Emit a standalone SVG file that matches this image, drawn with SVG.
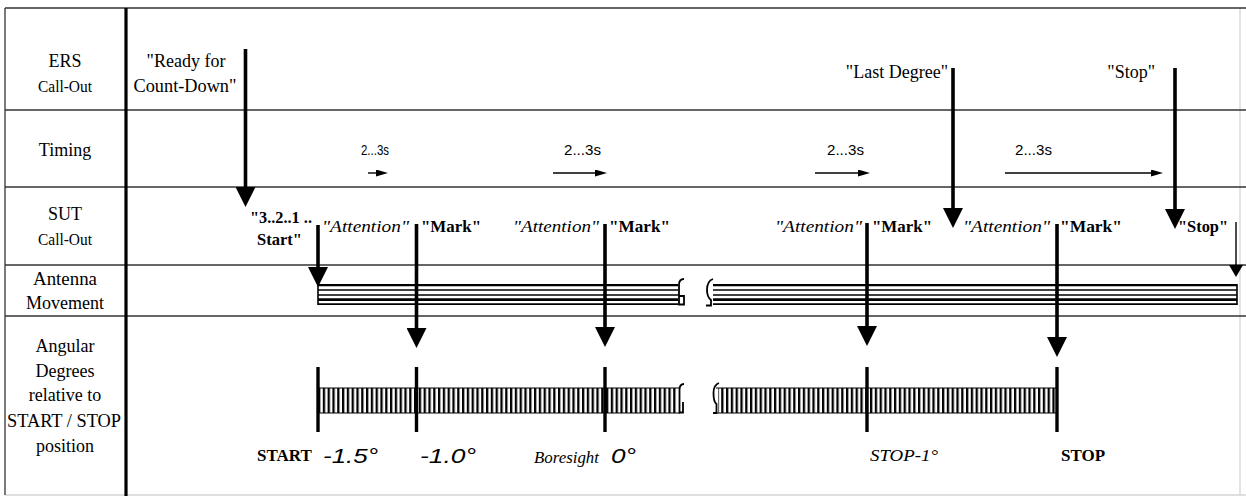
<svg xmlns="http://www.w3.org/2000/svg" width="1246" height="496" viewBox="0 0 1246 496">
<style>
.grid{stroke:#333;stroke-width:1.3;fill:none}
.faint{stroke:#d4d4d4;stroke-width:1.3;fill:none}
.sep{stroke:#000;stroke-width:3.2}
.lbl{font-family:'Liberation Serif','Times New Roman','DejaVu Serif',serif;font-size:18px;text-anchor:middle;fill:#000}
.ers{font-family:'Liberation Serif','Times New Roman','DejaVu Serif',serif;font-size:18px;fill:#000}
.b{font-family:'Liberation Serif','Times New Roman','DejaVu Serif',serif;font-size:17px;font-weight:bold;fill:#000}
.it{font-family:'Liberation Serif','Times New Roman','DejaVu Serif',serif;font-size:17px;font-style:italic;fill:#000}
.tm{font-family:'Liberation Sans',Arial,sans-serif;font-size:15px;fill:#000}
.deg{font-family:'Liberation Sans',Arial,sans-serif;font-size:21px;font-style:italic;fill:#000}
.thick{stroke:#000;stroke-width:3.6;fill:none}
.thin{stroke:#000;stroke-width:1.4;fill:none}
.tick{stroke:#000;stroke-width:3.4}
.brk{stroke:#000;stroke-width:1.8;fill:none}
</style>
<defs>
<marker id="big" viewBox="0 0 20 20" markerWidth="20" markerHeight="20" refX="10" refY="10" orient="auto" markerUnits="userSpaceOnUse"><path d="M0,0 L20,10 L0,20 z" fill="#000"/></marker>
<marker id="small" viewBox="0 0 12 7" markerWidth="12" markerHeight="7" refX="6" refY="3.5" orient="auto" markerUnits="userSpaceOnUse"><path d="M0,0 L12,3.5 L0,7 z" fill="#000"/></marker>
<marker id="thinhead" viewBox="0 0 12 14" markerWidth="12" markerHeight="14" refX="6" refY="7" orient="auto" markerUnits="userSpaceOnUse"><path d="M0,0 L12,7 L0,14 z" fill="#000"/></marker>
<pattern id="hatch" x="318" y="0" width="4.8" height="496" patternUnits="userSpaceOnUse"><rect x="0" y="0" width="2.3" height="496" fill="#000"/></pattern>
</defs>
<rect width="1246" height="496" fill="#fff"/>

<g id="table">
<line class="faint" x1="1240" y1="8" x2="1240" y2="495"/>
<line class="faint" x1="5" y1="495" x2="1246" y2="495"/>
<line class="grid" x1="5" y1="8" x2="1246" y2="8"/>
<line class="grid" x1="5" y1="8" x2="5" y2="495"/>
<line class="grid" x1="5" y1="110" x2="1246" y2="110"/>
<line class="grid" x1="5" y1="187" x2="1246" y2="187"/>
<line class="grid" x1="5" y1="265" x2="1246" y2="265"/>
<line class="grid" x1="5" y1="316" x2="1246" y2="316"/>
<line class="sep" x1="126" y1="8" x2="126" y2="496"/>
</g>

<g id="row-labels">
<text class="lbl" x="65" y="67">ERS</text>
<text class="lbl" x="65" y="91.5" style="font-size:17.5px" textLength="54" lengthAdjust="spacingAndGlyphs">Call-Out</text>
<text class="lbl" x="65" y="156">Timing</text>
<text class="lbl" x="65" y="220">SUT</text>
<text class="lbl" x="65" y="245" style="font-size:17.5px" textLength="54" lengthAdjust="spacingAndGlyphs">Call-Out</text>
<text class="lbl" x="65" y="285" textLength="64" lengthAdjust="spacingAndGlyphs">Antenna</text>
<text class="lbl" x="65" y="309">Movement</text>
<text class="lbl" x="65" y="352">Angular</text>
<text class="lbl" x="65" y="377">Degrees</text>
<text class="lbl" x="65" y="401">relative to</text>
<text class="lbl" x="64" y="427" textLength="114" lengthAdjust="spacingAndGlyphs">START / STOP</text>
<text class="lbl" x="65" y="452">position</text>
</g>

<g id="ers-callouts">
<text class="ers" x="186" y="67" text-anchor="middle">"Ready for</text>
<text class="ers" x="185" y="92" text-anchor="middle" textLength="103" lengthAdjust="spacingAndGlyphs">Count-Down"</text>
<text class="ers" x="948" y="78" text-anchor="end">"Last Degree"</text>
<text class="ers" x="1155" y="78" text-anchor="end">"Stop"</text>
</g>

<g id="timing">
<text class="tm" x="361" y="155" textLength="28" lengthAdjust="spacingAndGlyphs">2...3s</text>
<text class="tm" x="564" y="155" textLength="37" lengthAdjust="spacingAndGlyphs">2...3s</text>
<text class="tm" x="827" y="155" textLength="37" lengthAdjust="spacingAndGlyphs">2...3s</text>
<text class="tm" x="1015" y="155" textLength="37" lengthAdjust="spacingAndGlyphs">2...3s</text>
</g>

<g id="sut-callouts">
<text class="b" x="250" y="223" textLength="62" lengthAdjust="spacingAndGlyphs">"3..2..1 ..</text>
<text class="b" x="257" y="245" textLength="45" lengthAdjust="spacingAndGlyphs">Start"</text>
<text class="it" x="322" y="232" textLength="87" lengthAdjust="spacingAndGlyphs">"Attention"</text>
<text class="b" x="421" y="232" textLength="60" lengthAdjust="spacingAndGlyphs">"Mark"</text>
<text class="it" x="513" y="232" textLength="86" lengthAdjust="spacingAndGlyphs">"Attention"</text>
<text class="b" x="609" y="232" textLength="61" lengthAdjust="spacingAndGlyphs">"Mark"</text>
<text class="it" x="775" y="232" textLength="87" lengthAdjust="spacingAndGlyphs">"Attention"</text>
<text class="b" x="872" y="232" textLength="60" lengthAdjust="spacingAndGlyphs">"Mark"</text>
<text class="it" x="963" y="232" textLength="87" lengthAdjust="spacingAndGlyphs">"Attention"</text>
<text class="b" x="1060" y="232" textLength="62" lengthAdjust="spacingAndGlyphs">"Mark"</text>
<text class="b" x="1178" y="232" textLength="50" lengthAdjust="spacingAndGlyphs">"Stop"</text>
</g>

<g id="antenna-band">
<g stroke="#000" fill="none">
<line x1="318" y1="285.2" x2="678" y2="285.2" stroke-width="2.2"/>
<line x1="318" y1="290" x2="678" y2="290" stroke-width="1.4"/>
<line x1="318" y1="295" x2="678" y2="295" stroke-width="1.4"/>
<line x1="318" y1="299.6" x2="678" y2="299.6" stroke-width="2.6"/>
<line x1="318" y1="304.2" x2="678" y2="304.2" stroke-width="1.8"/>
<line x1="318" y1="284" x2="318" y2="305" stroke-width="1.6"/>
<line x1="713" y1="285.2" x2="1237" y2="285.2" stroke-width="2.2"/>
<line x1="713" y1="290" x2="1237" y2="290" stroke-width="1.4"/>
<line x1="713" y1="295" x2="1237" y2="295" stroke-width="1.4"/>
<line x1="713" y1="299.6" x2="1237" y2="299.6" stroke-width="2.6"/>
<line x1="713" y1="304.2" x2="1237" y2="304.2" stroke-width="1.8"/>
<line x1="1237" y1="284" x2="1237" y2="305" stroke-width="1.6"/>
</g>
<path class="brk" d="M684,279 C680.5,279 679,281 679,285 L679,304.5 L684,304.5 L684,296 L679,296"/>
<path class="brk" d="M713,279 Q707,281 707,290 Q707,297 711,300 L711,305.5 L706,305.5"/>
</g>

<g id="ruler">
<rect x="318" y="388" width="360" height="25" fill="url(#hatch)"/>
<rect x="718" y="388" width="339" height="25" fill="url(#hatch)"/>
<g stroke="#000" stroke-width="1.2">
<line x1="318" y1="388" x2="680" y2="388"/>
<line x1="318" y1="413" x2="680" y2="413"/>
<line x1="716" y1="388" x2="1057" y2="388"/>
<line x1="716" y1="413" x2="1057" y2="413"/>
</g>
<path class="brk" d="M684,384 C680.5,384 679.5,386 679.5,390 L679.5,412.5 L683,412.5 L683,402"/>
<path class="brk" d="M719,383 Q713.5,385 713.5,393 Q713.5,402 716.5,404 L716.5,413 L713,413"/>
<line class="tick" x1="318" y1="367" x2="318" y2="432"/>
<line class="tick" x1="416.5" y1="367" x2="416.5" y2="432"/>
<line class="tick" x1="605" y1="367" x2="605" y2="432"/>
<line class="tick" x1="867" y1="367" x2="867" y2="432"/>
<line class="tick" x1="1057" y1="367" x2="1057" y2="432"/>
</g>

<g id="angle-labels">
<text class="b" x="257" y="461">START</text>
<text class="deg" x="323" y="463" textLength="55" lengthAdjust="spacingAndGlyphs">-1.5°</text>
<text class="deg" x="420" y="463" textLength="56" lengthAdjust="spacingAndGlyphs">-1.0°</text>
<text class="it" x="534" y="463" textLength="65" lengthAdjust="spacingAndGlyphs">Boresight</text>
<text class="deg" x="611" y="463" textLength="25" lengthAdjust="spacingAndGlyphs">0°</text>
<text class="it" x="870" y="461" textLength="68" lengthAdjust="spacingAndGlyphs">STOP-1°</text>
<text class="b" x="1061" y="461">STOP</text>
</g>

<g id="connectors">
<line class="thick" x1="245.5" y1="49" x2="245.5" y2="197" marker-end="url(#big)"/>
<line class="thick" x1="953" y1="68" x2="953" y2="218" marker-end="url(#big)"/>
<line class="thick" x1="1175" y1="68" x2="1175" y2="219" marker-end="url(#big)"/>
<line class="thick" x1="318" y1="225" x2="318" y2="277" marker-end="url(#big)"/>
<line class="thick" x1="416.5" y1="224" x2="416.5" y2="338" marker-end="url(#big)"/>
<line class="thick" x1="605" y1="224" x2="605" y2="337" marker-end="url(#big)"/>
<line class="thick" x1="867" y1="223" x2="867" y2="336" marker-end="url(#big)"/>
<line class="thick" x1="1057" y1="224" x2="1057" y2="347" marker-end="url(#big)"/>
<line class="thin" x1="1236" y1="222" x2="1236" y2="271" marker-end="url(#thinhead)"/>
<line class="thin" x1="368" y1="173" x2="382" y2="173" marker-end="url(#small)"/>
<line class="thin" x1="553" y1="173" x2="601" y2="173" marker-end="url(#small)"/>
<line class="thin" x1="815" y1="173" x2="864" y2="173" marker-end="url(#small)"/>
<line class="thin" x1="1005" y1="173" x2="1157" y2="173" marker-end="url(#small)"/>
</g>
</svg>
